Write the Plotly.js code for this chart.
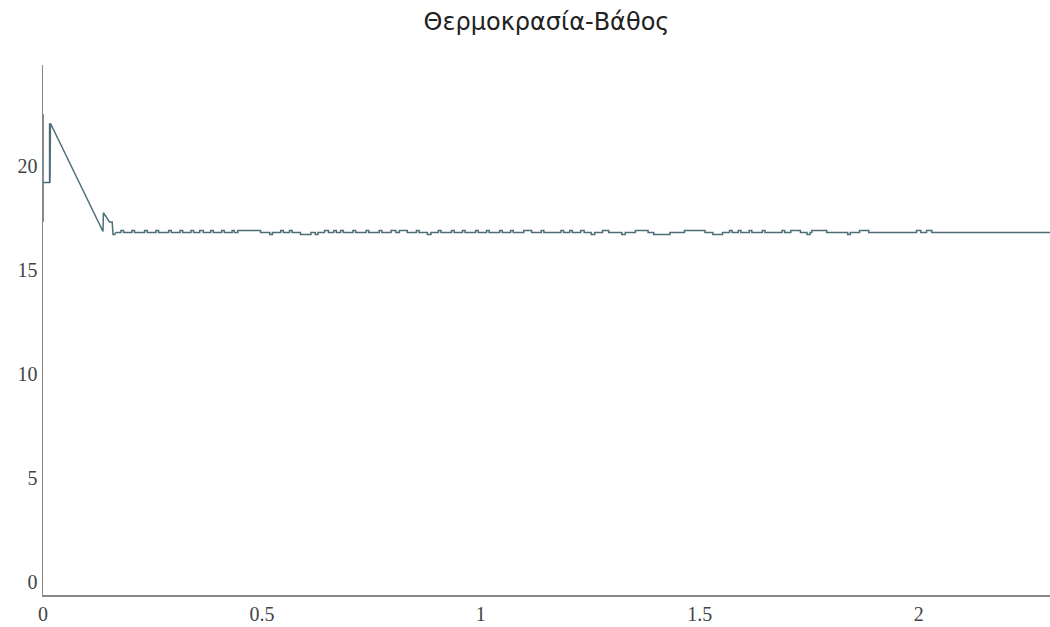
<!DOCTYPE html>
<html>
<head>
<meta charset="utf-8">
<script src="https://cdn.plot.ly/plotly-3.0.1.min.js"></script>
<style>html,body{margin:0;padding:0;background:#fff;}#chart{width:1050px;height:627px;}</style>
</head>
<body>
<div id="chart"></div>
<script>
// Initial descent part (depth, temperature)
const headDepth = [0, 0, 0, 0.015, 0.015, 0.016, 0.017, 0.137, 0.138, 0.152, 0.158, 0.160, 0.164, 0.166];
const headTemp  = [22.5, 17.3, 19.2, 19.2, 22.05, 19.2, 22.05, 16.85, 17.75, 17.3, 17.3, 16.7, 16.7, 16.8];

// Stable part: change points (temperature holds from this depth onward)
const stepDepth = [0.166, 0.178, 0.184, 0.203, 0.209, 0.232, 0.238, 0.258, 0.264, 0.287, 0.293,
  0.313, 0.319, 0.338, 0.344, 0.358, 0.366, 0.383, 0.389, 0.408, 0.414, 0.432, 0.437, 0.445, 0.497,
  0.518, 0.524, 0.543, 0.549, 0.563, 0.569, 0.588, 0.612, 0.622, 0.628, 0.643, 0.652, 0.664, 0.670,
  0.680, 0.686, 0.708, 0.714, 0.738, 0.744, 0.768, 0.774, 0.795, 0.806, 0.814, 0.832, 0.853, 0.859,
  0.878, 0.886, 0.903, 0.909, 0.933, 0.939, 0.958, 0.964, 0.988, 0.994, 1.013, 1.019, 1.043, 1.049,
  1.068, 1.074, 1.098, 1.116, 1.138, 1.144, 1.183, 1.189, 1.203, 1.209, 1.228, 1.236, 1.252, 1.260,
  1.278, 1.292, 1.322, 1.330, 1.353, 1.382, 1.395, 1.432, 1.465, 1.512, 1.530, 1.552, 1.568, 1.574,
  1.588, 1.594, 1.613, 1.619, 1.643, 1.649, 1.688, 1.694, 1.708, 1.730, 1.745, 1.752, 1.756, 1.790,
  1.838, 1.844, 1.865, 1.886, 1.995, 2.005, 2.018, 2.030, 2.300];
const stepTemp = [16.8, 16.9, 16.8, 16.9, 16.8, 16.9, 16.8, 16.9, 16.8, 16.9, 16.8,
  16.9, 16.8, 16.9, 16.8, 16.9, 16.8, 16.9, 16.8, 16.9, 16.8, 16.9, 16.8, 16.9, 16.8,
  16.7, 16.8, 16.9, 16.8, 16.9, 16.8, 16.7, 16.8, 16.7, 16.8, 16.9, 16.8, 16.9, 16.8,
  16.9, 16.8, 16.9, 16.8, 16.9, 16.8, 16.9, 16.8, 16.9, 16.8, 16.9, 16.8, 16.9, 16.8,
  16.7, 16.8, 16.9, 16.8, 16.9, 16.8, 16.9, 16.8, 16.9, 16.8, 16.9, 16.8, 16.9, 16.8,
  16.9, 16.8, 16.9, 16.8, 16.9, 16.8, 16.9, 16.8, 16.9, 16.8, 16.9, 16.8, 16.7, 16.8,
  16.9, 16.8, 16.7, 16.8, 16.9, 16.8, 16.7, 16.8, 16.9, 16.8, 16.7, 16.8, 16.9, 16.8,
  16.9, 16.8, 16.9, 16.8, 16.9, 16.8, 16.9, 16.8, 16.9, 16.8, 16.7, 16.8, 16.9, 16.8,
  16.7, 16.8, 16.9, 16.8, 16.9, 16.8, 16.9, 16.8, 16.8];

const xTicks = [0, 0.5, 1, 1.5, 2];
const yTicks = [0, 5, 10, 15, 20];
const titleText = 'Θερμοκρασία-Βάθος';

const lineColor = '#4d6e77';
const traces = [
  {x: headDepth, y: headTemp, type: 'scatter', mode: 'lines', line: {color: lineColor, width: 1.5}, hoverinfo: 'x+y', showlegend: false},
  {x: stepDepth, y: stepTemp, type: 'scatter', mode: 'lines', line: {color: lineColor, width: 1.5, shape: 'hv'}, hoverinfo: 'x+y', showlegend: false}
];
const tickFont = {family: 'Liberation Serif, Times New Roman, serif', size: 20, color: '#444'};
const layout = {
  width: 1050, height: 627,
  margin: {l: 43, r: 0, t: 65, b: 32, pad: 0},
  paper_bgcolor: '#fff', plot_bgcolor: '#fff',
  title: {text: titleText, x: 0.5, xref: 'paper', y: 0.965, yref: 'container', yanchor: 'middle',
          font: {family: 'DejaVu Sans, sans-serif', size: 24, color: '#222'}},
  xaxis: {range: [0, 2.3], tickvals: xTicks, ticktext: xTicks.map(String), showgrid: false, zeroline: false,
          showline: true, linecolor: '#888', linewidth: 1.5, ticks: '', tickfont: tickFont},
  yaxis: {range: [-0.62, 24.85], tickvals: yTicks, ticktext: yTicks.map(String), showgrid: false, zeroline: false,
          showline: true, linecolor: '#888', linewidth: 1.5, ticks: '', tickfont: tickFont},
  showlegend: false
};
Plotly.newPlot('chart', traces, layout, {displayModeBar: false, staticPlot: true});
</script>
</body>
</html>
